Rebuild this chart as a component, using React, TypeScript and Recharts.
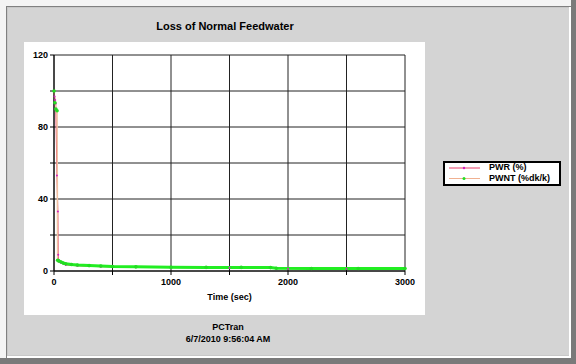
import React from "react";
import { LineChart, CartesianGrid, XAxis, YAxis, Line } from "recharts";

const pwrTime = [0, 5, 10, 15, 25, 33, 36, 40, 45, 60, 100, 200, 400, 700, 1000, 1500, 1850, 2000, 2500, 3000];
const pwrValue = [100, 97, 95, 93, 53, 33, 9, 6, 5.2, 4.6, 3.4, 2.9, 2.4, 2.1, 1.9, 1.8, 1.7, 1.3, 1.2, 1.1];

const pwntTime = [0, 8, 16, 26, 31, 40, 60, 80, 100, 150, 200, 300, 400, 500, 700, 1000, 1300, 1600, 1850, 1900, 2200, 2600, 3000];
const pwntValue = [100, 93.5, 90, 89, 6, 5.6, 5, 4.4, 4, 3.6, 3.3, 3, 2.8, 2.5, 2.3, 2.1, 2, 2, 1.9, 1.5, 1.4, 1.4, 1.4];

const xTicks = [0, 500, 1000, 1500, 2000, 2500, 3000];
const yTicks = [0, 20, 40, 60, 80, 100, 120];

const pwrData = pwrTime.map((t, i) => ({ t, v: pwrValue[i] }));
const pwntData = pwntTime.map((t, i) => ({ t, v: pwntValue[i] }));
// the thick green band only after the drop
const pwntTail = pwntData.filter((d) => d.v < 10);

const font = "'Liberation Sans', Arial, sans-serif";

export default function App() {
  return (
    <div style={{ position: "fixed", left: 0, top: 0, width: 576, height: 364, background: "#f4f4f4", fontFamily: font, overflow: "hidden" }}>
      <div style={{ position: "absolute", left: 6, top: 6, width: 565, height: 352, background: "#808080" }} />
      <div style={{ position: "absolute", left: 7, top: 7, width: 564, height: 351, background: "#ffffff" }} />
      <div style={{ position: "absolute", left: 7, top: 7, width: 562, height: 349, background: "#c8c8c8" }} />
      <div style={{ position: "absolute", left: 8, top: 8, width: 561, height: 347, background: "#d4d4d4" }} />
      <div style={{ position: "absolute", left: 571, top: 0, width: 5, height: 364, background: "#7a7a7a" }} />
      <div style={{ position: "absolute", left: 0, top: 358, width: 576, height: 6, background: "#7a7a7a" }} />

      <div style={{ position: "absolute", left: 100, top: 20, width: 250, textAlign: "center", fontWeight: "bold", fontSize: 11, color: "#000" }}>
        Loss of Normal Feedwater
      </div>

      <div style={{ position: "absolute", left: 24, top: 42, width: 401, height: 273, background: "#ffffff" }}>
        <LineChart width={401} height={273} margin={{ top: 13, right: 20, bottom: 0, left: 0 }}>
          <CartesianGrid stroke="#222" strokeWidth={1} horizontalValues={yTicks} verticalValues={xTicks} />
          <XAxis
            type="number"
            dataKey="t"
            domain={[0, 3000]}
            ticks={xTicks}
            interval={0}
            height={44}
            tickSize={4}
            tickMargin={4}
            stroke="#000"
            tick={{ fill: "#000", fontSize: 9, fontWeight: "bold", fontFamily: font }}
            tickFormatter={(v) => (v % 1000 === 0 ? String(v) : "")}
            label={{ value: "Time (sec)", position: "insideBottom", offset: 15, fill: "#000", fontSize: 9, fontWeight: "bold", fontFamily: font }}
            allowDuplicatedCategory={false}
          />
          <YAxis
            type="number"
            domain={[0, 120]}
            ticks={yTicks}
            interval={0}
            width={30}
            tickSize={4}
            tickMargin={2}
            stroke="#000"
            tick={{ fill: "#000", fontSize: 9, fontWeight: "bold", fontFamily: font }}
            tickFormatter={(v) => (v % 40 === 0 ? String(v) : "")}
          />
          <Line data={pwrData} dataKey="v" type="linear" stroke="#e8406a" strokeWidth={1} dot={{ r: 1, fill: "#d020c0", stroke: "none" }} isAnimationActive={false} />
          <Line data={pwntData} dataKey="v" type="linear" stroke="#f0c0a0" strokeWidth={1.5} dot={{ r: 1.8, fill: "#22dd22", stroke: "none" }} isAnimationActive={false} />
          <Line data={pwntTail} dataKey="v" type="linear" stroke="#22ee22" strokeWidth={3} dot={false} isAnimationActive={false} />
        </LineChart>
      </div>

      <div style={{ position: "absolute", left: 443, top: 161, width: 114, height: 21, background: "#fff", border: "2px solid #000" }}>
        <svg width={34} height={21} style={{ position: "absolute", left: 2, top: 0 }}>
          <line x1={2} x2={33} y1={5} y2={5} stroke="#e8406a" strokeWidth={1} />
          <circle cx={17} cy={5} r={1.2} fill="#d020c0" />
          <line x1={2} x2={33} y1={15.5} y2={15.5} stroke="#f0b090" strokeWidth={1} />
          <circle cx={17} cy={15.5} r={1.5} fill="#22dd22" />
        </svg>
        <div style={{ position: "absolute", left: 44, top: -1, fontSize: 9, fontWeight: "bold", lineHeight: "11px", whiteSpace: "nowrap" }}>
          PWR (%)<br />PWNT (%dk/k)
        </div>
      </div>

      <div style={{ position: "absolute", left: 128, top: 321, width: 200, textAlign: "center", fontSize: 9, fontWeight: "bold", lineHeight: "12px" }}>
        PCTran<br />6/7/2010 9:56:04 AM
      </div>
    </div>
  );
}
